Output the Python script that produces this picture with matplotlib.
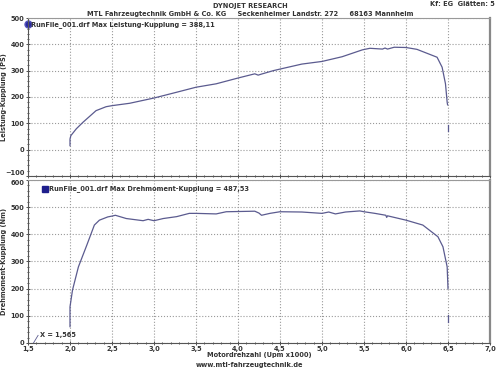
import numpy as np
import matplotlib.pyplot as plt
from matplotlib.ticker import MultipleLocator, FuncFormatter

# Leistung (PS) ueber Drehzahl (x1000 U/min)
rpm_power = [2.0, 2.0, 2.01, 2.075, 2.155, 2.31, 2.43, 2.5, 2.71, 3.0, 3.27, 3.5,
             3.74, 4.0, 4.2, 4.24, 4.28, 4.42, 4.5, 4.76, 5.0, 5.24, 5.48, 5.57,
             5.72, 5.75, 5.78, 5.86, 6.0, 6.13, 6.29, 6.37, 6.43, 6.47, 6.49, 6.495]
power_ps = [15, 40, 53, 79, 104, 148, 163, 167, 176, 196, 218, 237,
            250, 272, 288, 283, 287, 300, 306, 325, 335, 353, 379, 385,
            382, 386, 382, 389, 388, 381, 361, 351, 313, 250, 180, 170]
tail_rpm = [6.5, 6.5]
tail_power = [72, 92]

# Drehmoment (Nm)
rpm_torque = [2.0, 2.0, 2.03, 2.1, 2.2, 2.29, 2.35, 2.45, 2.5, 2.54, 2.67, 2.87,
              2.93, 3.0, 3.11, 3.27, 3.42, 3.5, 3.74, 3.86, 4.2, 4.25, 4.28, 4.38,
              4.5, 4.76, 5.0, 5.08, 5.16, 5.28, 5.45, 5.5, 5.63, 5.76, 5.77, 5.78,
              6.0, 6.2, 6.38, 6.44, 6.49, 6.5]
torque_nm = [60, 133, 195, 280, 360, 434, 452, 464, 467, 470, 458, 450,
             455, 450, 458, 465, 477, 477, 475, 483, 485, 478, 470, 477,
             483, 482, 477, 482, 475, 482, 486, 483, 477, 470, 462, 468,
             452, 434, 391, 354, 280, 200]
tail_torque = [78, 103]

line_col = '#5b5b8f'
grid_col = '#9a9a9a'
txt = dict(fontsize=4.8, fontweight='bold', color='#333333')

fig = plt.figure(figsize=(5.0, 3.68), dpi=100)
ax1 = fig.add_axes([0.056, 0.522, 0.924, 0.429])
ax2 = fig.add_axes([0.056, 0.068, 0.924, 0.443])

comma = FuncFormatter(lambda v, p: ('%.1f' % v).replace('.', ','))

for ax in (ax1, ax2):
    ax.set_xlim(1.5, 7.0)
    ax.xaxis.set_major_locator(MultipleLocator(0.5))
    ax.xaxis.set_minor_locator(MultipleLocator(0.1))
    ax.yaxis.set_major_locator(MultipleLocator(100))
    ax.yaxis.set_minor_locator(MultipleLocator(20))
    ax.grid(True, which='major', color=grid_col, linestyle=':', linewidth=0.8)
    ax.tick_params(which='both', direction='inout', length=3, width=0.6,
                   labelsize=4.8, colors='#333333', pad=1)
    ax.tick_params(which='minor', length=2)
    for s in ax.spines.values():
        s.set_color('#555555')
        s.set_linewidth(0.8)
    ax.spines['right'].set_linewidth(1.6)
    ax.spines['right'].set_color('#888888')
    ax.spines['top'].set_color('#999999')

ax1.set_ylim(-100, 500)
ax1.tick_params(axis='x', which='both', labelbottom=False)
ax1.plot(rpm_power, power_ps, color=line_col, lw=0.9)
ax1.plot(tail_rpm, tail_power, color=line_col, lw=0.9)
ax1.set_ylabel('Leistung-Kupplung (PS)', **txt)
ax1.yaxis.set_label_coords(-0.046, 0.5)
ax1.plot([0.0], [0.96], marker='o', ms=5, color='#2a2aa0', mec='#5555bb',
         transform=ax1.transAxes, clip_on=False)
ax1.text(0.006, 0.96, 'RunFile_001.drf Max Leistung-Kupplung = 388,11',
         transform=ax1.transAxes, va='center', ha='left', **txt)

ax2.set_ylim(0, 600)
ax2.xaxis.set_major_formatter(comma)
ax2.plot(rpm_torque, torque_nm, color=line_col, lw=0.9)
ax2.plot(tail_rpm, tail_torque, color=line_col, lw=0.9)
ax2.set_ylabel('Drehmoment-Kupplung (Nm)', **txt)
ax2.yaxis.set_label_coords(-0.046, 0.5)
ax2.set_xlabel('Motordrehzahl (Upm x1000)', labelpad=0, **txt)
ax2.plot([0.036], [0.945], marker='s', ms=4, color='#1e1e8c',
         transform=ax2.transAxes)
ax2.text(0.045, 0.945, 'RunFile_001.drf Max Drehmoment-Kupplung = 487,53',
         transform=ax2.transAxes, va='center', ha='left', **txt)

# Startpunkt-Markierung
ax2.plot([1.565, 1.62], [0, 28], color=line_col, lw=0.6)
ax2.text(1.64, 30, 'X = 1,565', va='center', ha='left', **txt)

fig.canvas.draw()
for ax in (ax1, ax2):
    for lab in ax.get_xticklabels() + ax.get_yticklabels():
        lab.set_fontweight('bold')
# -100 unten und 600 oben liegen dicht beieinander
for t in ax1.yaxis.get_major_ticks():
    if abs(t.get_loc() + 100) < 1:
        t.label1.set_va('bottom')
for t in ax2.yaxis.get_major_ticks():
    if abs(t.get_loc() - 600) < 1:
        t.label1.set_va('top')

fig.text(0.5, 0.985, 'DYNOJET RESEARCH', ha='center', va='center', **txt)
fig.text(0.5, 0.963, 'MTL Fahrzeugtechnik GmbH & Co. KG     Seckenheimer Landstr. 272     68163 Mannheim',
         ha='center', va='center', **txt)
fig.text(0.99, 0.988, 'Kf: EG  Glätten: 5', ha='right', va='center', **txt)
fig.text(0.5, 0.008, 'www.mtl-fahrzeugtechnik.de', ha='center', va='center', **txt)

plt.savefig('out.png', dpi=100, facecolor='white')
